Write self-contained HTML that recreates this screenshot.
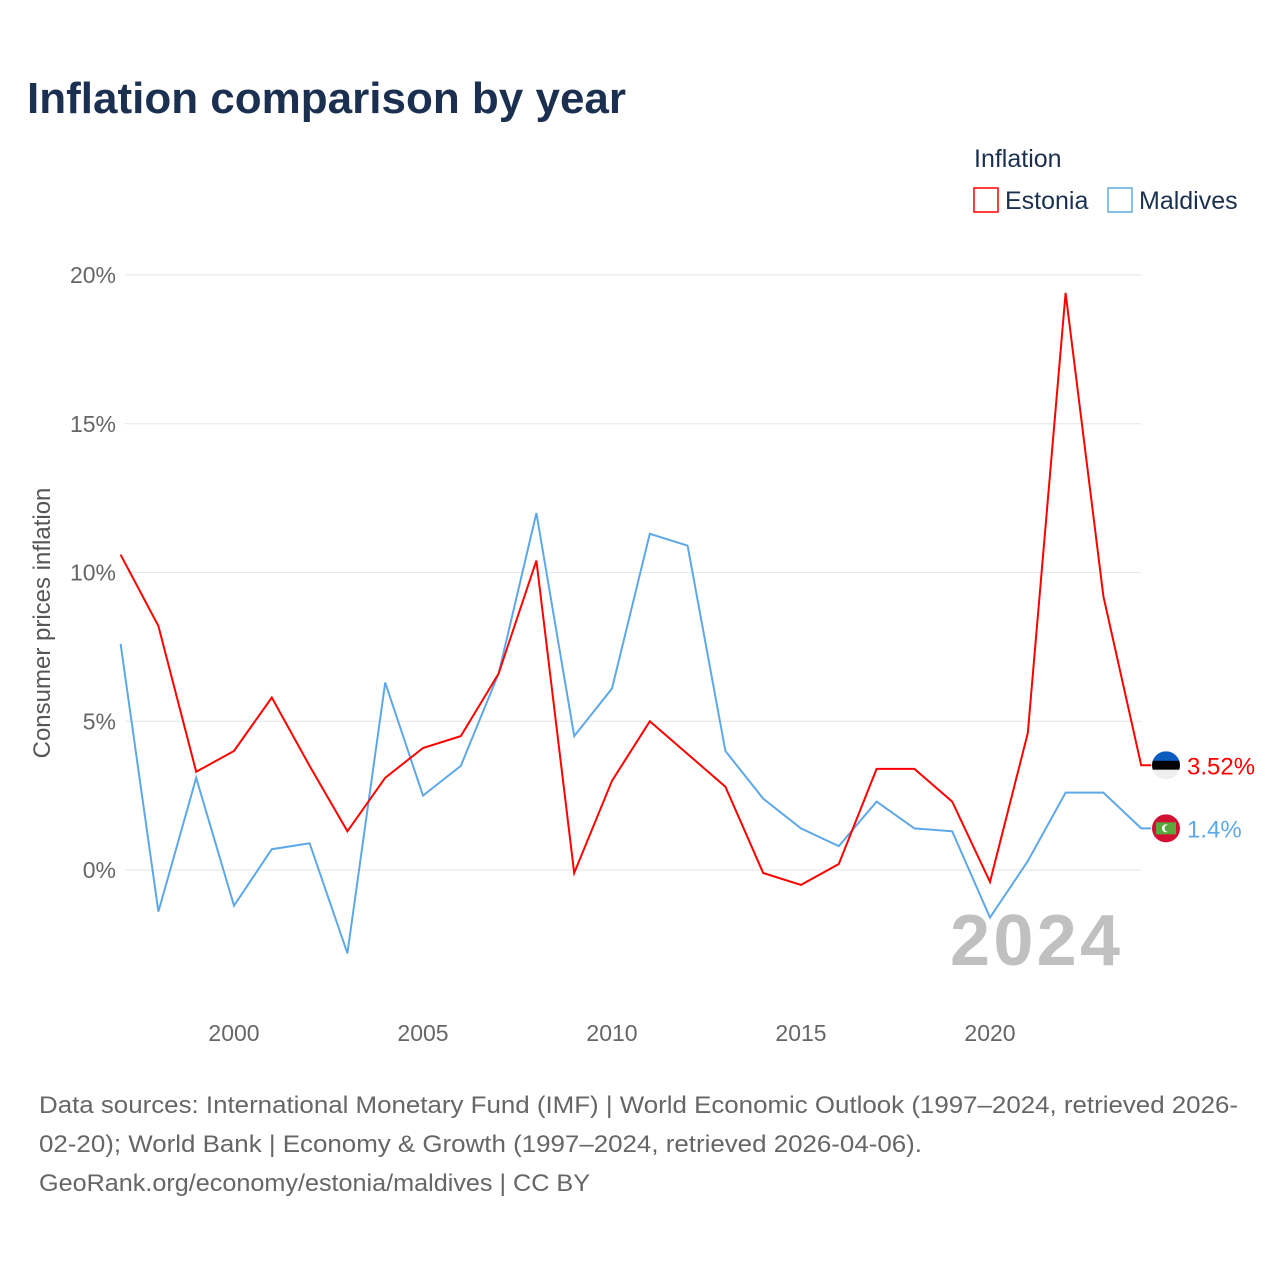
<!DOCTYPE html>
<html><head><meta charset="utf-8">
<style>
html,body{margin:0;padding:0;background:#fff;}
body{width:1280px;height:1280px;overflow:hidden;font-family:"Liberation Sans",sans-serif;}
svg text{font-family:"Liberation Sans",sans-serif;}
</style></head>
<body>
<svg id="chart" width="1280" height="1280" viewBox="0 0 1280 1280">
<text x="27" y="113" font-size="44" font-weight="bold" fill="#1b3050">Inflation comparison by year</text>
<g>
<text x="974" y="167" font-size="25" fill="#1b3050">Inflation</text>
<g><rect x="974" y="188" width="24" height="24" fill="none" stroke="#ff0000" stroke-width="1.5"/><text x="1005" y="209" font-size="25" fill="#1b3050">Estonia</text></g>
<g><rect x="1108" y="188" width="24" height="24" fill="none" stroke="#5ea8e8" stroke-width="1.5"/><text x="1139" y="209" font-size="25" fill="#1b3050">Maldives</text></g>
</g>
<g id="grid"></g>
<g id="yticks"></g>
<g id="xticks"></g>
<text transform="translate(50,623) rotate(-90)" text-anchor="middle" font-size="24" fill="#555">Consumer prices inflation</text>
<text x="1120" y="965" text-anchor="end" font-size="72" font-weight="bold" fill="#c0c0c0" textLength="170">2024</text>
<g id="series"></g>
<g font-size="24" fill="#666">
<text x="39" y="1113" textLength="1199" lengthAdjust="spacingAndGlyphs">Data sources: International Monetary Fund (IMF) | World Economic Outlook (1997–2024, retrieved 2026-</text>
<text x="39" y="1152" textLength="883" lengthAdjust="spacingAndGlyphs">02-20); World Bank | Economy &amp; Growth (1997–2024, retrieved 2026-04-06).</text>
<text x="39" y="1191" textLength="551" lengthAdjust="spacingAndGlyphs">GeoRank.org/economy/estonia/maldives | CC BY</text>
</g>
</svg>
<script>
const years=[1997,1998,1999,2000,2001,2002,2003,2004,2005,2006,2007,2008,2009,2010,2011,2012,2013,2014,2015,2016,2017,2018,2019,2020,2021,2022,2023,2024];
const estonia=[10.6,8.2,3.3,4.0,5.8,3.5,1.3,3.1,4.1,4.5,6.6,10.4,-0.1,3.0,5.0,3.9,2.8,-0.1,-0.5,0.2,3.4,3.4,2.3,-0.4,4.6,19.4,9.2,3.52];
const maldives=[7.6,-1.4,3.1,-1.2,0.7,0.9,-2.8,6.3,2.5,3.5,6.6,12.0,4.5,6.1,11.3,10.9,4.0,2.4,1.4,0.8,2.3,1.4,1.3,-1.6,0.3,2.6,2.6,1.4];
const yTicks=[0,5,10,15,20];
const xTicks=[2000,2005,2010,2015,2020];
const NS="http://www.w3.org/2000/svg";
const X=y=>120.6+(y-1997)*37.8;
const Y=v=>870-v*29.75;
function mk(tag,attrs,parent){const e=document.createElementNS(NS,tag);for(const k in attrs)e.setAttribute(k,attrs[k]);parent.appendChild(e);return e;}
const grid=document.getElementById('grid'),yt=document.getElementById('yticks'),xt=document.getElementById('xticks'),ser=document.getElementById('series');
yTicks.forEach(t=>{
 const l=mk('line',{x1:125,x2:1141,y1:Y(t),y2:Y(t),stroke:'#e6e6e6','stroke-width':1},grid);
 
 
 const tx=mk('text',{x:116,y:Y(t)+8,'text-anchor':'end','font-size':23,fill:'#666'},yt);
 tx.textContent=t+'%';
 
 
});
xTicks.forEach(t=>{
 const tx=mk('text',{x:X(t),y:1041,'text-anchor':'middle','font-size':23,fill:'#666'},xt);
 tx.textContent=t;
 
 
});
function drawLine(vals,color,name,label,flag){
 let d=vals.map((v,i)=>(i?'L':'M')+X(years[i]).toFixed(1)+' '+Y(v).toFixed(1)).join(' ');
 const last=vals[vals.length-1];
 d+=' L'+(X(years[years.length-1])+10)+' '+Y(last).toFixed(1);
 const p=mk('path',{d:d,fill:'none',stroke:color,'stroke-width':2},ser);
 
 
 const cy=Y(last);
 const g=mk('g',{},ser);
 
 
 if(flag==='ee'){
  mk('clipPath',{id:'c1'},g);
  g.querySelector('clipPath').appendChild(document.createElementNS(NS,'circle')).setAttribute('r',14);
  const cp=g.querySelector('clipPath circle');cp.setAttribute('cx',1166);cp.setAttribute('cy',cy);
  mk('rect',{x:1152,y:cy-14,width:28,height:10,fill:'#0a5cbf','clip-path':'url(#c1)'},g);
  mk('rect',{x:1152,y:cy-4.5,width:28,height:9,fill:'#000','clip-path':'url(#c1)'},g);
  mk('rect',{x:1152,y:cy+4.5,width:28,height:10,fill:'#eee','clip-path':'url(#c1)'},g);
 } else {
  mk('circle',{cx:1166,cy:cy,r:14,fill:'#d21034'},g);
  mk('rect',{x:1156,y:cy-6,width:20,height:12,fill:'#5aa83c'},g);
  mk('circle',{cx:1166,cy:cy,r:4,fill:'#fff'},g);
  mk('circle',{cx:1168,cy:cy,r:3.5,fill:'#5aa83c'},g);
 }
 const t=mk('text',{x:1187,y:cy+9,'font-size':24,fill:color},ser);
 t.textContent=label;
 
 
}
drawLine(maldives,'#5ea8e8','maldives','1.4%','mv');
drawLine(estonia,'#ff0000','estonia','3.52%','ee');
</script>
</body></html>
